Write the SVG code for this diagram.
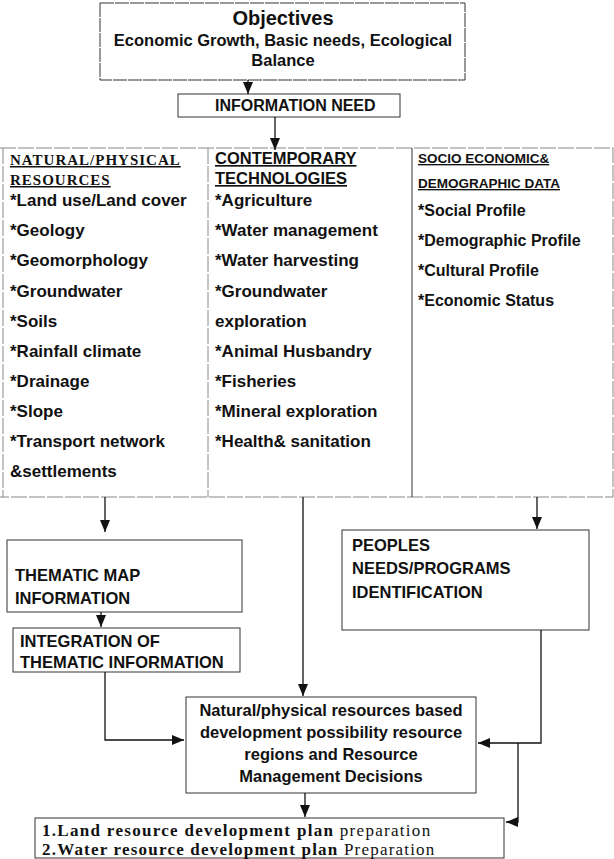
<svg xmlns="http://www.w3.org/2000/svg" width="614" height="859" viewBox="0 0 614 859">
<defs>
<marker id="ah" markerUnits="userSpaceOnUse" markerWidth="12" markerHeight="10" refX="12" refY="5" orient="auto">
<path d="M0,0 L12,5 L0,10 z" fill="#111"/>
</marker>
<style>
.box{fill:#fff;stroke:#333;stroke-width:1}
.faint{fill:none;stroke:#888;stroke-width:1}
.b{font-family:"Liberation Sans",Arial,sans-serif;font-weight:bold;fill:#111}
.it{font-size:17px}
.it3{font-size:16px}
.mid{text-anchor:middle}
.u{text-decoration:underline}
.ser{font-family:"Liberation Serif","Times New Roman",serif;fill:#111}
.ln{fill:none;stroke:#111;stroke-width:1.3}
</style>
</defs>
<rect width="614" height="859" fill="#fff"/>

<g id="objectives">
<rect class="box" x="100" y="3" width="365" height="77" stroke="#555" stroke-dasharray="14 1"/>
<text class="b mid" x="283" y="25" font-size="20">Objectives</text>
<text class="b mid" x="283" y="46" font-size="16.5">Economic Growth, Basic needs, Ecological</text>
<text class="b mid" x="283" y="66" font-size="16.5">Balance</text>
</g>

<g id="information-need">
<rect class="box" x="178" y="94" width="222" height="23" stroke="#555"/>
<text class="b" x="215" y="111" font-size="16">INFORMATION NEED</text>
</g>

<g id="information-table">
<path class="faint" d="M0,148 H613 V497 H0 M3,148 V497" stroke-dasharray="16 2"/>
<line class="faint" x1="208" y1="148" x2="208" y2="497" stroke-dasharray="16 2"/>
<line x1="412" y1="148" x2="412" y2="497" stroke="#333" stroke-width="1"/>
</g>

<g id="natural-physical-resources">
<text class="ser u" x="10" y="165" font-size="15" font-weight="bold" letter-spacing="1">NATURAL/PHYSICAL</text>
<text class="ser u" x="10" y="185" font-size="15" font-weight="bold" letter-spacing="1">RESOURCES</text>
<text class="b it" x="10" y="206">*Land use/Land cover</text>
<text class="b it" x="10" y="236">*Geology</text>
<text class="b it" x="10" y="266">*Geomorphology</text>
<text class="b it" x="10" y="297">*Groundwater</text>
<text class="b it" x="10" y="327">*Soils</text>
<text class="b it" x="10" y="357">*Rainfall climate</text>
<text class="b it" x="10" y="387">*Drainage</text>
<text class="b it" x="10" y="417">*Slope</text>
<text class="b it" x="10" y="447">*Transport network</text>
<text class="b it" x="10" y="477">&amp;settlements</text>
</g>

<g id="contemporary-technologies">
<text class="b u" x="215" y="164" font-size="16.5">CONTEMPORARY</text>
<text class="b u" x="215" y="184" font-size="16.5">TECHNOLOGIES</text>
<text class="b it" x="215" y="206">*Agriculture</text>
<text class="b it" x="215" y="236">*Water management</text>
<text class="b it" x="215" y="266">*Water harvesting</text>
<text class="b it" x="215" y="297">*Groundwater</text>
<text class="b it" x="215" y="327">exploration</text>
<text class="b it" x="215" y="357">*Animal Husbandry</text>
<text class="b it" x="215" y="387">*Fisheries</text>
<text class="b it" x="215" y="417">*Mineral exploration</text>
<text class="b it" x="215" y="447">*Health&amp; sanitation</text>
</g>

<g id="socio-economic-data">
<text class="b u" x="418" y="163" font-size="13.5">SOCIO  ECONOMIC&amp;</text>
<text class="b u" x="418" y="188" font-size="13.5">DEMOGRAPHIC DATA</text>
<text class="b it3" x="418" y="216">*Social Profile</text>
<text class="b it3" x="418" y="246">*Demographic Profile</text>
<text class="b it3" x="418" y="276">*Cultural Profile</text>
<text class="b it3" x="418" y="306">*Economic Status</text>
</g>

<g id="thematic-map">
<rect class="box" x="7" y="540" width="235" height="72"/>
<text class="b" x="15" y="581" font-size="16.5">THEMATIC MAP</text>
<text class="b" x="15" y="604" font-size="16.5">INFORMATION</text>
</g>

<g id="integration">
<rect class="box" x="13" y="628" width="227" height="44"/>
<text class="b" x="20" y="647" font-size="16.5">INTEGRATION OF</text>
<text class="b" x="20" y="668" font-size="16.5">THEMATIC INFORMATION</text>
</g>

<g id="peoples-needs">
<rect class="box" x="342" y="530" width="247" height="100"/>
<text class="b" x="352" y="551" font-size="16.5">PEOPLES</text>
<text class="b" x="352" y="574" font-size="16.5">NEEDS/PROGRAMS</text>
<text class="b" x="352" y="598" font-size="16.5">IDENTIFICATION</text>
</g>

<g id="resource-decisions">
<rect class="box" x="186" y="697" width="290" height="96"/>
<text class="b mid" x="331" y="716" font-size="16.5">Natural/physical resources based</text>
<text class="b mid" x="331" y="738" font-size="16.5">development possibility resource</text>
<text class="b mid" x="331" y="760" font-size="16.5">regions and Resource</text>
<text class="b mid" x="331" y="782" font-size="16.5">Management Decisions</text>
</g>

<g id="development-plans">
<rect class="box" x="35" y="818" width="469" height="40"/>
<text class="ser" x="42" y="836" font-size="17" letter-spacing="1.3"><tspan font-weight="bold">1.Land resource development plan</tspan> preparation</text>
<text class="ser" x="42" y="855" font-size="17" letter-spacing="1.2"><tspan font-weight="bold">2.Water resource development plan</tspan> Preparation</text>
</g>

<g id="connectors">
<line class="ln" x1="248" y1="80" x2="248" y2="94" marker-end="url(#ah)"/>
<line class="ln" x1="275" y1="117" x2="275" y2="150" marker-end="url(#ah)"/>
<line class="ln" x1="105" y1="497" x2="105" y2="532" marker-end="url(#ah)"/>
<line class="ln" x1="101" y1="612" x2="101" y2="627" marker-end="url(#ah)"/>
<polyline class="ln" points="105,672 105,740 184,740" marker-end="url(#ah)"/>
<line class="ln" x1="303" y1="497" x2="303" y2="696" marker-end="url(#ah)"/>
<line class="ln" x1="537" y1="497" x2="537" y2="529" marker-end="url(#ah)"/>
<polyline class="ln" points="541,630 541,743 478,743" marker-end="url(#ah)"/>
<polyline class="ln" points="518,743 518,822 506,822" marker-end="url(#ah)"/>
<line class="ln" x1="305" y1="793" x2="305" y2="817" marker-end="url(#ah)"/>
</g>
</svg>
